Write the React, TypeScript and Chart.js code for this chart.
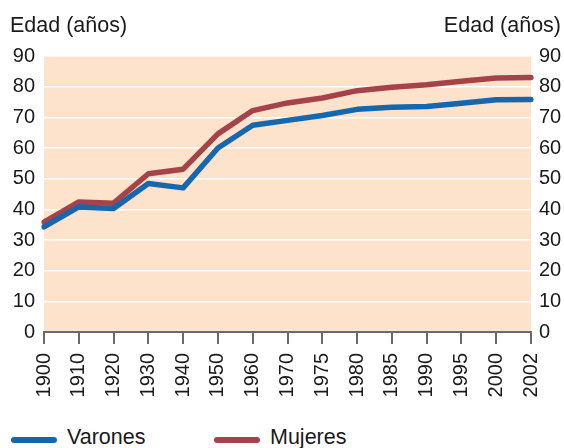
import React, { useEffect, useRef } from "react";
import { Chart, registerables } from "chart.js";

Chart.register(...registerables);

const years = ["1900", "1910", "1920", "1930", "1940", "1950", "1960", "1970", "1975", "1980", "1985", "1990", "1995", "2000", "2002"];
const varones = [34.3, 40.8, 40.3, 48.4, 47.0, 60.0, 67.4, 69.0, 70.6, 72.6, 73.3, 73.5, 74.6, 75.7, 75.8];
const mujeres = [35.8, 42.4, 42.0, 51.6, 53.1, 64.6, 72.2, 74.7, 76.3, 78.7, 79.8, 80.6, 81.8, 82.8, 83.0];
const axisTitle = "Edad (años)";
const seriesNames = ["Varones", "Mujeres"];

const BLUE = "#1667ae";
const RED = "#a6434a";
const BG = "#fde3cb";
const TEXT = "#1a1a1a";
const FONT = "'Liberation Sans', Arial, sans-serif";

const bgPlugin = {
  id: "plotBg",
  beforeDraw(chart: any) {
    const { ctx, chartArea } = chart;
    ctx.save();
    ctx.fillStyle = BG;
    ctx.fillRect(chartArea.left, chartArea.top, chartArea.right - chartArea.left, chartArea.bottom - chartArea.top);
    ctx.restore();
  },
  afterDraw(chart: any) {
    const { ctx } = chart;
    ctx.save();
    ctx.fillStyle = TEXT;
    ctx.font = `21.5px ${FONT}`;
    ctx.textBaseline = "alphabetic";
    ctx.textAlign = "left";
    ctx.fillText(axisTitle, 10, 32);
    ctx.textAlign = "right";
    ctx.fillText(axisTitle, 561, 32);
    ctx.restore();
  },
};

export default function App() {
  const ref = useRef<HTMLCanvasElement | null>(null);

  useEffect(() => {
    if (!ref.current) return;
    const chart = new Chart(ref.current, {
      type: "line",
      data: {
        labels: years,
        datasets: [
          {
            label: seriesNames[0],
            data: varones,
            borderColor: BLUE,
            backgroundColor: BLUE,
            borderWidth: 5.5,
            pointRadius: 0,
            tension: 0,
            borderCapStyle: "round",
            borderJoinStyle: "round",
            yAxisID: "y",
          },
          {
            label: seriesNames[1],
            data: mujeres,
            borderColor: RED,
            backgroundColor: RED,
            borderWidth: 5.5,
            pointRadius: 0,
            tension: 0,
            borderCapStyle: "round",
            borderJoinStyle: "round",
            yAxisID: "y",
          },
        ],
      },
      options: {
        animation: false,
        responsive: false,
        maintainAspectRatio: false,
        layout: { padding: { top: 56, left: 0, right: 0, bottom: 0 } },
        plugins: {
          legend: { display: false },
          tooltip: { enabled: false },
        },
        scales: {
          x: {
            type: "category",
            offset: false,
            grid: {
              drawOnChartArea: false,
              drawTicks: true,
              tickLength: 12,
              color: "#6a6a6a",
              lineWidth: 2,
            },
            border: { display: true, color: "#6a6a6a", width: 2 },
            ticks: {
              autoSkip: false,
              minRotation: 90,
              maxRotation: 90,
              padding: 9,
              color: TEXT,
              font: { family: FONT, size: 20 },
            },
            afterFit(scale: any) {
              scale.height = 68;
            },
          },
          y: {
            position: "left",
            min: 0,
            max: 90,
            ticks: {
              stepSize: 10,
              padding: 9,
              color: TEXT,
              font: { family: FONT, size: 20 },
            },
            grid: {
              color: "#ffffff",
              lineWidth: 1.5,
              drawTicks: false,
            },
            border: { display: false },
            afterFit(scale: any) {
              scale.width = 44;
            },
          },
          y2: {
            position: "right",
            min: 0,
            max: 90,
            ticks: {
              stepSize: 10,
              padding: 8,
              color: TEXT,
              font: { family: FONT, size: 20 },
            },
            grid: { drawOnChartArea: false, drawTicks: false },
            border: { display: false },
            afterFit(scale: any) {
              scale.width = 33;
            },
          },
        },
      },
      plugins: [bgPlugin],
    } as any);
    return () => chart.destroy();
  }, []);

  const legendText: React.CSSProperties = {
    position: "absolute",
    top: 426.5,
    fontFamily: FONT,
    fontSize: "21.5px",
    lineHeight: "21.5px",
    color: TEXT,
    whiteSpace: "nowrap",
  };
  const legendLine = (left: number, color: string): React.CSSProperties => ({
    position: "absolute",
    left,
    top: 437,
    width: 46,
    height: 5.5,
    borderRadius: 3,
    background: color,
  });

  return (
    <div style={{ position: "fixed", left: 0, top: 0, width: 564, height: 448, overflow: "hidden", background: "#fff" }}>
      <canvas ref={ref} width={564} height={400} style={{ position: "absolute", left: 0, top: 0, width: 564, height: 400 }} />
      <div style={legendLine(11, BLUE)} />
      <div style={{ ...legendText, left: 67 }}>{seriesNames[0]}</div>
      <div style={legendLine(214, RED)} />
      <div style={{ ...legendText, left: 270 }}>{seriesNames[1]}</div>
    </div>
  );
}
